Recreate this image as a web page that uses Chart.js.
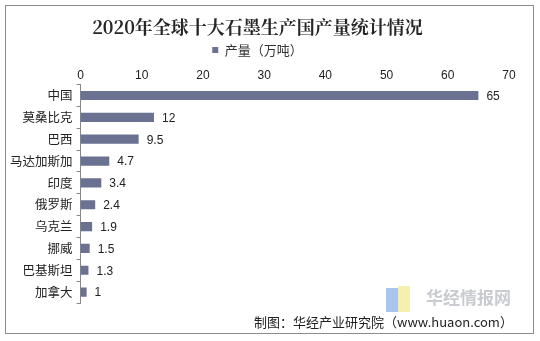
<!DOCTYPE html>
<html>
<head>
<meta charset="utf-8">
<script src="https://cdn.jsdelivr.net/npm/chart.js@4/dist/chart.umd.min.js"></script>
<style>
    html, body { margin: 0; padding: 0; background: #fff; }
    #wrap {
        position: absolute;
        left: 5px; top: 5px;
        width: 527px; height: 327px;
        border: 1px solid #8c8c8c;
        background: #fff;
    }
    #footer {
        position: absolute;
        left: 248px; top: 306px;
        font: 13px "Noto Sans CJK SC", sans-serif;
        color: #222;
        white-space: nowrap;
    }
    #mark {
        position: absolute;
        left: 380px; top: 278px;
        width: 130px; height: 30px;
    }
    #mark .b1 { position: absolute; left: 0; top: 4px; width: 12px; height: 24px; background: #a9c4ee; }
    #mark .b2 { position: absolute; left: 12px; top: 2px; width: 12px; height: 26px; background: #f5efb0; }
    #mark .t {
        position: absolute; left: 40px; top: 0;
        font: bold 17px "Noto Sans CJK SC", sans-serif;
        color: #c9cbd0;
        white-space: nowrap;
    }
</style>
</head>
<body>
<div id="wrap">
    <canvas id="graphiteChart" width="527" height="327"></canvas>
    <div id="mark"><div class="b1"></div><div class="b2"></div><div class="t">华经情报网</div></div>
    <div id="footer">制图：华经产业研究院（www.huaon.com）</div>
</div>
<script>
// 2020年十大石墨生产国产量（万吨）
const countries = ['中国', '莫桑比克', '巴西', '马达加斯加', '印度', '俄罗斯', '乌克兰', '挪威', '巴基斯坦', '加拿大'];
const output = [65, 12, 9.5, 4.7, 3.4, 2.4, 1.9, 1.5, 1.3, 1];
const xTicks = [0, 10, 20, 30, 40, 50, 60, 70];

// value labels to the right of each bar
const barLabels = {
    id: 'barLabels',
    afterDatasetsDraw(chart) {
        const ctx = chart.ctx;
        const meta = chart.getDatasetMeta(0);
        ctx.save();
        ctx.font = '12px "Liberation Sans", Arial, sans-serif';
        ctx.fillStyle = '#222';
        ctx.textBaseline = 'middle';
        meta.data.forEach((bar, i) => {
            ctx.fillText(String(output[i]), bar.x + 8, bar.y + 1);
        });
        ctx.restore();
    }
};

new Chart(document.getElementById('graphiteChart'), {
    type: 'bar',
    data: {
        labels: countries,
        datasets: [{
            label: '产量（万吨）',
            data: output,
            backgroundColor: '#6a7191',
            barPercentage: 0.42,
            categoryPercentage: 1
        }]
    },
    options: {
        indexAxis: 'y',
        responsive: false,
        animation: false,
        layout: {
            padding: { left: 0, right: 24, top: 2, bottom: 30 }
        },
        scales: {
            x: {
                position: 'top',
                min: 0,
                max: 70,
                afterBuildTicks(axis) {
                    axis.ticks = xTicks.map(v => ({ value: v }));
                },
                // fixed band between the legend and the bars
                afterFit(axis) {
                    axis.height = 18;
                },
                grid: { display: false, drawTicks: false },
                border: { display: false },
                ticks: {
                    color: '#222',
                    padding: 3,
                    font: { family: '"Liberation Sans", Arial, sans-serif', size: 12, lineHeight: 1 }
                }
            },
            y: {
                offset: true,
                grid: {
                    drawOnChartArea: false,
                    offset: true,
                    tickLength: 4,
                    color: '#888'
                },
                border: { display: true, color: '#888' },
                ticks: {
                    color: '#222',
                    padding: 4,
                    font: { family: '"Noto Sans CJK SC", sans-serif', size: 12.5 }
                }
            }
        },
        plugins: {
            title: {
                display: true,
                text: '2020年全球十大石墨生产国产量统计情况',
                color: '#262626',
                padding: { top: 8, bottom: 5 },
                font: { family: '"Noto Serif CJK SC", "Noto Sans CJK SC", serif', size: 18, weight: 'bold' }
            },
            legend: {
                labels: {
                    boxWidth: 6,
                    boxHeight: 6,
                    color: '#333',
                    padding: 1,
                    font: { family: '"Noto Sans CJK SC", sans-serif', size: 13, lineHeight: 1 }
                }
            },
            tooltip: { enabled: false }
        }
    },
    plugins: [barLabels]
});
</script>
</body>
</html>
